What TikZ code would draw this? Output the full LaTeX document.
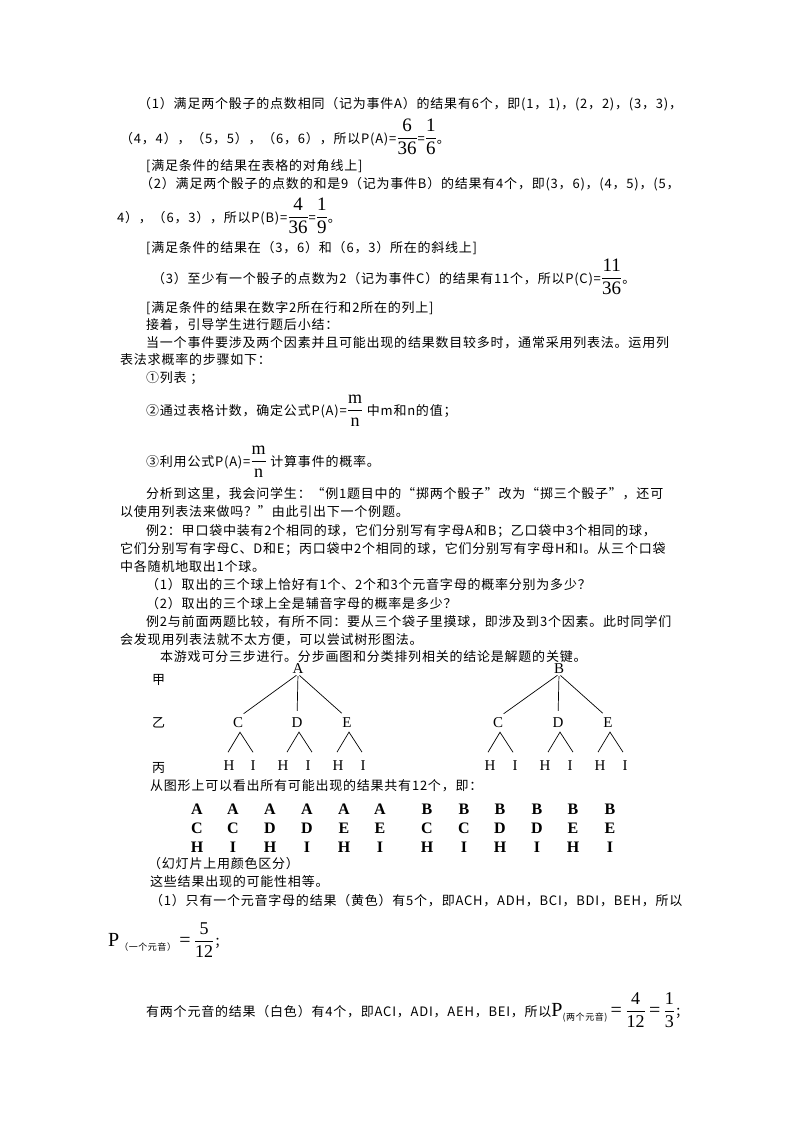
\documentclass[tikz,border=0pt]{standalone}
\usepackage{amsmath}
\usepackage{fontspec}
\setmainfont{Noto Sans CJK SC}[LetterSpace=6]
\newfontfamily\tms{Liberation Serif}
\usetikzlibrary{calc}
\newcommand{\fr}[2]{{\fontsize{19}{19}\selectfont$\dfrac{\text{\tms #1}}{\text{\tms #2}}$}}
\newcommand{\sfr}[2]{{\fontsize{18}{18}\selectfont$\dfrac{\text{\tms #1}}{\text{\tms #2}}$}}
\begin{document}
\begin{tikzpicture}[x=1pt,y=-1pt,
  tl/.style={anchor=base west,inner sep=0pt,font=\fontsize{13}{14}\selectfont},
  tr/.style={inner sep=0pt,font=\tms\fontsize{15}{16}\selectfont},
  lt/.style={inner sep=0pt,font=\tms\bfseries\fontsize{16}{16}\selectfont},
  br/.style={line width=0.7pt}]
\useasboundingbox[fill=white] (0,0) rectangle (800,1132);
\node[tl] (l1) at (138,108) {（1）满足两个骰子的点数相同（记为事件A）的结果有6个，即(1，1)，(2，2)，(3，3)，};
\node[tl] (l2) at (120,143) {（4，4），（5，5），（6，6），所以P(A)=\fr{6}{36}=\fr{1}{6}。};
\node[tl] (l3) at (146,170) {[满足条件的结果在表格的对角线上]};
\node[tl] (l4) at (140,188) {（2）满足两个骰子的点数的和是9（记为事件B）的结果有4个，即(3，6)，(4，5)，(5，};
\node[tl] (l5) at (117,222) {4），（6，3），所以P(B)=\fr{4}{36}=\fr{1}{9}。};
\node[tl] (l6) at (146,252) {[满足条件的结果在（3，6）和（6，3）所在的斜线上]};
\node[tl] (l7) at (152,283) {（3）至少有一个骰子的点数为2（记为事件C）的结果有11个，所以P(C)=\fr{11}{36}。};
\node[tl] (l8) at (146,312) {[满足条件的结果在数字2所在行和2所在的列上]};
\node[tl] (l9) at (146,329) {接着，引导学生进行题后小结：};
\node[tl] (l10) at (146,347) {当一个事件要涉及两个因素并且可能出现的结果数目较多时，通常采用列表法。运用列};
\node[tl] (l11) at (120,364) {表法求概率的步骤如下：};
\node[tl] (l12) at (146,382) {①列表 ；};
\node[tl] (l13) at (146,415) {②通过表格计数，确定公式P(A)=\sfr{m}{n} 中m和n的值；};
\node[tl] (l14) at (146,466) {③利用公式P(A)=\sfr{m}{n} 计算事件的概率。};
\node[tl] (l15) at (146,498) {分析到这里，我会问学生：“例1题目中的“掷两个骰子”改为“掷三个骰子”，还可};
\node[tl] (l16) at (120,516) {以使用列表法来做吗？”由此引出下一个例题。};
\node[tl] (l17) at (146,535) {例2：甲口袋中装有2个相同的球，它们分别写有字母A和B；乙口袋中3个相同的球，};
\node[tl] (l18) at (120,553) {它们分别写有字母C、D和E；丙口袋中2个相同的球，它们分别写有字母H和I。从三个口袋};
\node[tl] (l19) at (120,571) {中各随机地取出1个球。};
\node[tl] (l20) at (146,589) {（1）取出的三个球上恰好有1个、2个和3个元音字母的概率分别为多少？};
\node[tl] (l21) at (146,608) {（2）取出的三个球上全是辅音字母的概率是多少？};
\node[tl] (l22) at (146,626) {例2与前面两题比较，有所不同：要从三个袋子里摸球，即涉及到3个因素。此时同学们};
\node[tl] (l23) at (120,644) {会发现用列表法就不太方便，可以尝试树形图法。};
\node[tl] (l24) at (160,661) {本游戏可分三步进行。分步画图和分类排列相关的结论是解题的关键。};
% tree labels
\node[tl] (ja) at (152,684) {甲};
\node[tl] (yi) at (152,727) {乙};
\node[tl] (bi) at (152,772) {丙};
\node[tr] (A) at (298,669) {A};
\node[tr] (C1) at (238,723) {C};
\node[tr] (D1) at (297,723) {D};
\node[tr] (E1) at (347,723) {E};
\node[tr] (B) at (559,669) {B};
\node[tr] (C2) at (498,723) {C};
\node[tr] (D2) at (558,723) {D};
\node[tr] (E2) at (608,723) {E};
\foreach \r/\c in {A/C1,A/D1,A/E1,B/C2,B/D2,B/E2}
  \draw[br,shorten <=2pt,shorten >=7pt] (\r.south) -- (\c.north);
\foreach \p/\h/\i/\k in {C1/229/253/1,D1/283/308/2,E1/338/363/3,C2/490/515/4,D2/545/570/5,E2/600/625/6}{
  \node[tr] (H\k) at (\h,766) {H};
  \node[tr] (I\k) at (\i,766) {I};
  \coordinate (ap\k) at ($(\p.south)+(2,4)$);
  \coordinate (fh\k) at ($(ap\k)+(-12,20)$);
  \coordinate (fi\k) at ($(ap\k)+(13,20)$);
  \draw[br] (fh\k) -- (ap\k) -- (fi\k);
}
\node[tl] (l25) at (150,790) {从图形上可以看出所有可能出现的结果共有12个，即：};
\foreach \x/\a/\b/\c [count=\n] in {197/A/C/H,233/A/C/I,270/A/D/H,307/A/D/I,344/A/E/H,380/A/E/I,427/B/C/H,464/B/C/I,500/B/D/H,537/B/D/I,573/B/E/H,610/B/E/I}{
  \node[lt] (ga\n) at (\x,809) {\a};
  \node[lt] (gb\n) at (\x,828) {\b};
  \node[lt] (gc\n) at (\x,847) {\c};
}
\node[tl] (l26) at (148,868) {（幻灯片上用颜色区分）};
\node[tl] (l27) at (150,886) {这些结果出现的可能性相等。};
\node[tl] (l28) at (150,905) {（1）只有一个元音字母的结果（黄色）有5个，即ACH，ADH，BCI，BDI，BEH，所以};
\node[tl] (l29) at (108,946) {{\tms\fontsize{20}{20}\selectfont P}\raisebox{-4pt}{\fontsize{9}{9}\selectfont（一个元音）}{\tms\fontsize{20}{20}\selectfont\,=\,}\sfr{5}{12}；};
\node[tl] (l30) at (146,1016) {有两个元音的结果（白色）有4个，即ACI，ADI，AEH，BEI，所以{\tms\fontsize{20}{20}\selectfont P}\raisebox{-4pt}{\fontsize{9}{9}\selectfont(两个元音)}{\tms\fontsize{20}{20}\selectfont\,=\,}\sfr{4}{12}{\tms\fontsize{20}{20}\selectfont\,=\,}\sfr{1}{3}；};
\end{tikzpicture}
\end{document}
